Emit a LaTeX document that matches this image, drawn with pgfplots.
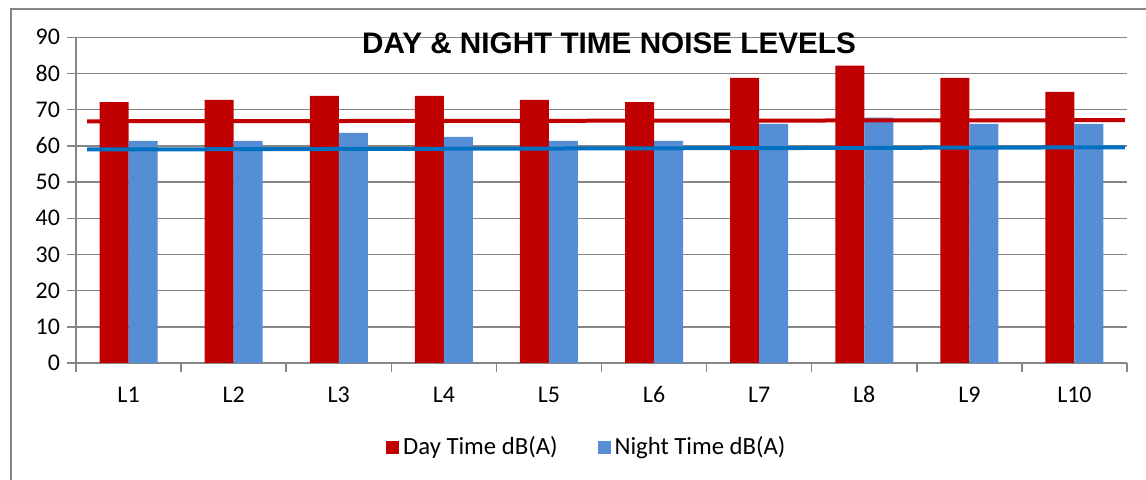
\documentclass[border=0pt]{standalone}
\usepackage{pgfplots}
\pgfplotsset{compat=1.18}
\usepackage{fontspec}
\setmainfont{Carlito}
\newfontfamily\titlefont{Liberation Sans}
\definecolor{dayred}{HTML}{C00000}
\definecolor{nightblue}{HTML}{558ED5}
\definecolor{linered}{HTML}{C00000}
\definecolor{lineblue}{HTML}{0070C0}
\definecolor{gridgray}{HTML}{868686}
\begin{document}
\begin{tikzpicture}
\useasboundingbox (0bp,0bp) rectangle (573bp,240bp);
\draw[gridgray, line width=1.2bp] (5.5bp,-10bp) -- (5.5bp,235.5bp) -- (600bp,235.5bp);
\begin{axis}[
  at={(38bp,58.5bp)}, anchor=south west,
  scale only axis, width=525.5bp, height=162.85bp,
  xmin=-0.5, xmax=9.5, ymin=0, ymax=90,
  axis x line*=bottom, axis y line*=left,
  axis line style={-, draw=gridgray, line width=0.9bp},
  ytick={0,10,...,90}, ymajorgrids,
  grid style={gridgray, line width=0.75bp},
  xtick={-0.5,0.5,...,9.5}, xticklabels={},
  extra x ticks={0,1,2,3,4,5,6,7,8,9},
  extra x tick labels={L1,L2,L3,L4,L5,L6,L7,L8,L9,L10},
  extra x tick style={major tick length=0pt},
  tick align=outside, major tick length=4.5bp,
  tick style={gridgray, line width=0.75bp},
  ticklabel style={font=\fontsize{12}{14}\selectfont},
  xticklabel style={yshift=-8bp, text height=8bp, text depth=0bp},
  /pgf/number format/assume math mode=true,
  legend style={at={(0.487,-0.258)}, anchor=center, draw=none, fill=none,
    legend columns=2, font=\fontsize{12.4}{14}\selectfont,
    /tikz/every even column/.append style={column sep=18bp}},
  legend cell align=left,
  legend image code/.code={\fill[#1] (0bp,-3.25bp) rectangle (6.5bp,3.25bp);},
]
\addplot[ybar, bar width=14.5bp, bar shift=-7.25bp, fill=dayred, draw=none]
  coordinates {(0,72.1) (1,72.7) (2,73.8) (3,73.8) (4,72.7) (5,72.1) (6,78.8) (7,82.2) (8,78.8) (9,74.9)};
\addlegendentry{Day Time dB(A)}
\addplot[ybar, bar width=14.5bp, bar shift=7.25bp, fill=nightblue, draw=none]
  coordinates {(0,61.4) (1,61.4) (2,63.6) (3,62.5) (4,61.4) (5,61.4) (6,66.1) (7,67.8) (8,66.1) (9,66.1)};
\addlegendentry{Night Time dB(A)}
\addplot[linered, line width=2bp, forget plot] coordinates {(-0.395,66.8) (9.48,67.1)};
\addplot[lineblue, line width=2bp, forget plot] coordinates {(-0.395,59.0) (9.48,59.6)};
\end{axis}
\node[font=\titlefont\bfseries\fontsize{14.9}{16}\selectfont, anchor=base] at (304.5bp,213.3bp) {DAY \& NIGHT TIME NOISE LEVELS};
\end{tikzpicture}
\end{document}
